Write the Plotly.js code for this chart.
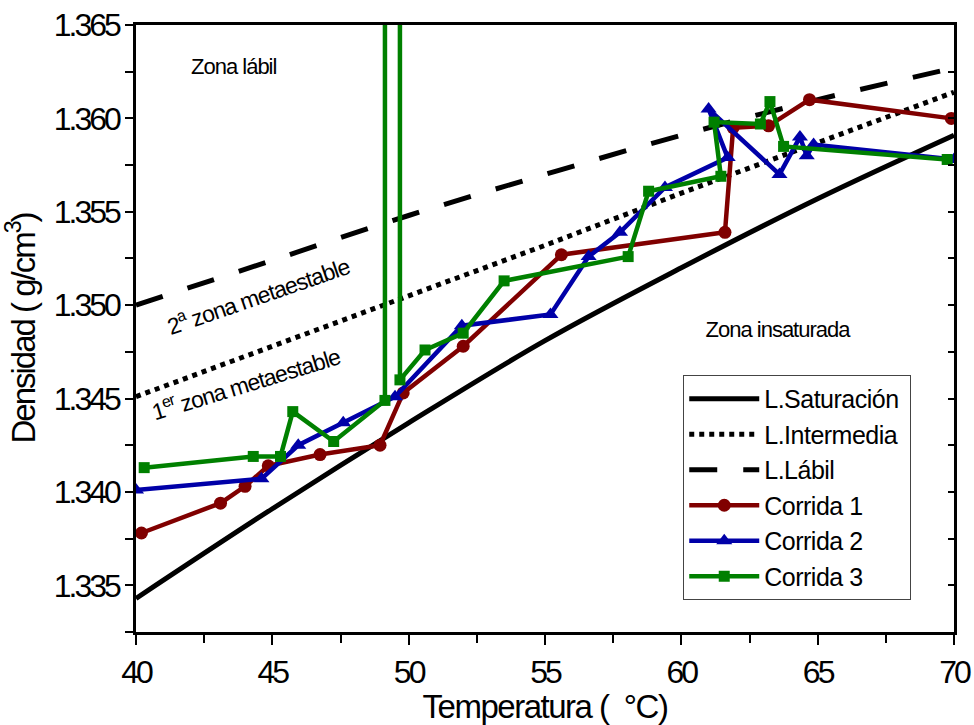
<!DOCTYPE html>
<html>
<head>
<meta charset="utf-8">
<script src="https://cdn.plot.ly/plotly-3.0.1.min.js"></script>
<style>
body{margin:0;padding:0;background:#fff;}
#chart{width:974px;height:725px;}
#chart .xtick text, #chart .ytick text {letter-spacing:-3px;}
#chart .g-xtitle text {letter-spacing:-1.5px;}
#chart .g-ytitle text {letter-spacing:-2px;}
#chart .legendtext {letter-spacing:-0.5px;}
#chart .annotation-text {letter-spacing:-1px;}
</style>
</head>
<body>
<div id="chart"></div>
<script>
// Reference lines
const refTemp = [40, 45, 50, 55, 60, 65, 70];
const satDensity = [1.3343, 1.3391, 1.3437, 1.3481, 1.3520, 1.3557, 1.3591];
const intDensity = [1.3451, 1.3478, 1.3505, 1.3532, 1.3560, 1.3587, 1.3614];
const labDensity = [1.3500, 1.3524, 1.3548, 1.3570, 1.3591, 1.3610, 1.3627];

// Runs
const run1Temp = [40.2, 43.1, 44.0, 44.85, 46.75, 48.95, 49.8, 52.0, 55.6, 61.6, 61.9, 63.2, 64.7, 69.9];
const run1Density = [1.3378, 1.3394, 1.3403, 1.3414, 1.3420, 1.3425, 1.3453, 1.3478, 1.3527, 1.3539, 1.3595, 1.3596, 1.3610, 1.3600];

const run2Temp = [40.0, 44.6, 45.95, 47.6, 49.5, 51.95, 55.2, 56.6, 57.75, 59.4, 61.7, 61.0, 63.6, 64.35, 64.6, 64.85, 70.0];
const run2Density = [1.3401, 1.3407, 1.3425, 1.3437, 1.3451, 1.3489, 1.3495, 1.3526, 1.3539, 1.3563, 1.3579, 1.3605, 1.3570, 1.3590, 1.3580, 1.3586, 1.3578];

const run3Temp = [40.3, 44.3, 45.3, 45.75, 47.25, 49.13, 49.4, 49.68, 50.6, 52.0, 53.5, 58.05, 58.8, 61.45, 61.2, 62.9, 63.25, 63.75, 69.75];
const run3Density = [1.3413, 1.3419, 1.3419, 1.3443, 1.3427, 1.3449, 13.45, 1.3460, 1.3476, 1.3485, 1.3513, 1.3526, 1.3561, 1.3569, 1.3598, 1.3597, 1.3609, 1.3585, 1.3578];

const legendNames = ['L.Saturación', 'L.Intermedia', 'L.Lábil', 'Corrida 1', 'Corrida 2', 'Corrida 3'];

const FONT = 'Arial, "Liberation Sans", sans-serif';
const RED = '#800000', BLUE = '#0000A8', GREEN = '#008000';

const traces = [
  {x: refTemp, y: satDensity, mode: 'lines', name: legendNames[0],
   line: {color: '#000', width: 5, shape: 'spline'}},
  {x: refTemp, y: intDensity, mode: 'lines', name: legendNames[1],
   line: {color: '#000', width: 5, dash: '5px,5px'}},
  {x: refTemp, y: labDensity, mode: 'lines', name: legendNames[2],
   line: {color: '#000', width: 5, dash: '28px,26px', shape: 'spline'}},
  {x: run1Temp, y: run1Density, mode: 'lines+markers', name: legendNames[3],
   line: {color: RED, width: 4.5}, marker: {symbol: 'circle', size: 13, color: RED}},
  {x: run2Temp, y: run2Density, mode: 'lines+markers', name: legendNames[4],
   line: {color: BLUE, width: 4.5}, marker: {symbol: 'triangle-up', size: 14, color: BLUE}},
  {x: run3Temp, y: run3Density, mode: 'lines+markers', name: legendNames[5],
   line: {color: GREEN, width: 4.5}, marker: {symbol: 'square', size: 11, color: GREEN}},
  {x: refTemp, y: satDensity, yaxis: 'y2', mode: 'lines', opacity: 0, showlegend: false, hoverinfo: 'skip',
   line: {color: 'rgba(0,0,0,0)', width: 0}}
];

const layout = {
  width: 974, height: 725,
  margin: {l: 136, r: 20, t: 25, b: 93},
  paper_bgcolor: '#fff', plot_bgcolor: '#fff',
  font: {family: FONT, color: '#000'},
  showlegend: true,
  xaxis: {
    range: [40, 70], dtick: 5, tick0: 40,
    showgrid: false, zeroline: false,
    showline: true, linecolor: '#000', linewidth: 2.5, mirror: true,
    ticks: 'outside', ticklen: 10, tickwidth: 2, tickcolor: '#000',
    minor: {dtick: 2.5, ticks: 'outside', ticklen: 8, tickwidth: 2, tickcolor: '#000'},
    tickfont: {size: 32, family: FONT},
    title: {text: 'Temperatura (\u00A0\u00A0°C)', font: {size: 33, family: FONT}, standoff: 0}
  },
  yaxis: {
    range: [1.3325, 1.365], dtick: 0.005, tick0: 1.335, tickformat: '.3f',
    showgrid: false, zeroline: false,
    showline: true, linecolor: '#000', linewidth: 2.5,
    ticks: 'outside', ticklen: 8, tickwidth: 2, tickcolor: '#000',
    minor: {dtick: 0.0025, ticks: 'outside', ticklen: 8, tickwidth: 2, tickcolor: '#000'},
    tickfont: {size: 32, family: FONT},
    title: {text: 'Densidad (\u00A0g/cm<sup>3</sup>)', font: {size: 33, family: FONT}, standoff: 10}
  },
  yaxis2: {
    overlaying: 'y', side: 'right', range: [1.3325, 1.365], dtick: 0.005, tick0: 1.335,
    showgrid: false, zeroline: false, showticklabels: false,
    showline: true, linecolor: '#000', linewidth: 2.5,
    ticks: 'inside', ticklen: 6, tickwidth: 2, tickcolor: '#000',
    minor: {dtick: 0.0025, ticks: 'inside', ticklen: 6, tickwidth: 2, tickcolor: '#000'}
  },
  legend: {
    x: 0.669, y: 0.4234, xanchor: 'left', yanchor: 'top',
    bgcolor: '#fff', bordercolor: '#444', borderwidth: 1,
    font: {size: 25, family: FONT, color: '#000'},
    itemwidth: 70, tracegroupgap: 0
  },
  annotations: [
    {x: 43.59, y: 1.3628, text: 'Zona lábil', showarrow: false, font: {size: 22, family: FONT}},
    {x: 63.54, y: 1.34867, text: 'Zona insaturada', showarrow: false, font: {size: 22, family: FONT}},
    {x: 44.47, y: 1.35054, text: '2<sup>a</sup> zona metaestable', showarrow: false, textangle: -19, font: {size: 23, family: FONT}},
    {x: 44.0, y: 1.34583, text: '1<sup>er</sup> zona metaestable', showarrow: false, textangle: -17, font: {size: 23, family: FONT}}
  ]
};

Plotly.newPlot('chart', traces, layout, {displayModeBar: false, responsive: false});
</script>
</body>
</html>
